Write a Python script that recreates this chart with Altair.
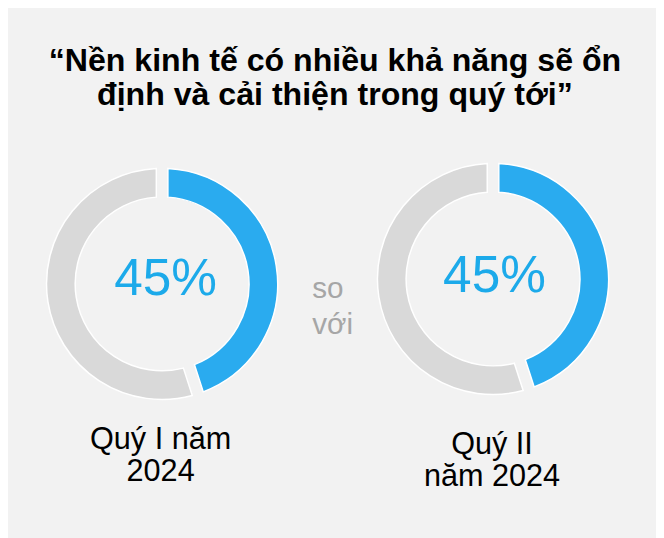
import altair as alt
import pandas as pd

# ---- data ----
quarters = ["Quý I năm 2024", "Quý II năm 2024"]
label_lines = [["Quý I năm", "2024"], ["Quý II", "năm 2024"]]
share_yes = [45, 45]
title_lines = ["“Nền kinh tế có nhiều khả năng sẽ ổn", "định và cải thiện trong quý tới”"]
middle_lines = ["so", "với"]

BLUE = "#2AABEF"
GRAY = "#D9D9D9"
TEXT_BLUE = "#1CAAEA"
BG = "#F2F2F2"
FONT = "Liberation Sans"

rows = []
for q, v in zip(quarters, share_yes):
    rows.append({"quarter": q, "segment": "yes", "value": v, "order": 0})
    rows.append({"quarter": q, "segment": "no", "value": 100 - v, "order": 1})
df = pd.DataFrame(rows)

centers = [(156, 276), (491, 271)]
pct_pos = [(159.5, 287), (492.5, 284.5)]
label_pos = [(154.5, 443), (490, 448)]

layers = []
for i, q in enumerate(quarters):
    cx, cy = centers[i]
    donut = (
        alt.Chart(df)
        .transform_filter(alt.datum.quarter == q)
        .mark_arc(innerRadius=88, outerRadius=117, padAngle=0.08,
                  stroke="white", strokeWidth=1.5)
        .encode(
            theta=alt.Theta("value:Q", stack=True),
            color=alt.Color("segment:N",
                            scale=alt.Scale(domain=["yes", "no"], range=[BLUE, GRAY]),
                            legend=None),
            order=alt.Order("order:Q"),
            x=alt.value(cx),
            y=alt.value(cy),
        )
    )
    pdf = pd.DataFrame({"quarter": [q], "pct": [f"{share_yes[i]}%"],
                        "label": ["\n".join(label_lines[i])]})
    pct = (
        alt.Chart(pdf)
        .mark_text(font=FONT, fontSize=52, color=TEXT_BLUE, align="center",
                   baseline="alphabetic")
        .encode(text="pct:N", x=alt.value(pct_pos[i][0]), y=alt.value(pct_pos[i][1]))
    )
    lab = (
        alt.Chart(pdf)
        .mark_text(font=FONT, fontSize=31, color="black", align="center",
                   baseline="alphabetic", lineBreak="\n", lineHeight=33)
        .encode(text="label:N", x=alt.value(label_pos[i][0]), y=alt.value(label_pos[i][1]))
    )
    layers += [donut, pct, lab]

tdf = pd.DataFrame({"t": ["\n".join(title_lines)], "m": ["\n".join(middle_lines)]})
title = (
    alt.Chart(tdf)
    .mark_text(font=FONT, fontSize=32.5, fontWeight="bold", color="black",
               align="center", baseline="alphabetic", lineBreak="\n", lineHeight=34)
    .encode(text="t:N", x=alt.value(331), y=alt.value(61))
)
middle = (
    alt.Chart(tdf)
    .mark_text(font=FONT, fontSize=30, color="#A6A6A6", align="left",
               baseline="alphabetic", lineBreak="\n", lineHeight=37)
    .encode(text="m:N", x=alt.value(308), y=alt.value(290))
)

chart = (
    alt.layer(title, middle, *layers)
    .properties(width=656, height=530, padding=0, background=BG)
    .configure_view(stroke=None)
)

chart.save("out.html", embed_options={"renderer": "svg", "actions": False})
